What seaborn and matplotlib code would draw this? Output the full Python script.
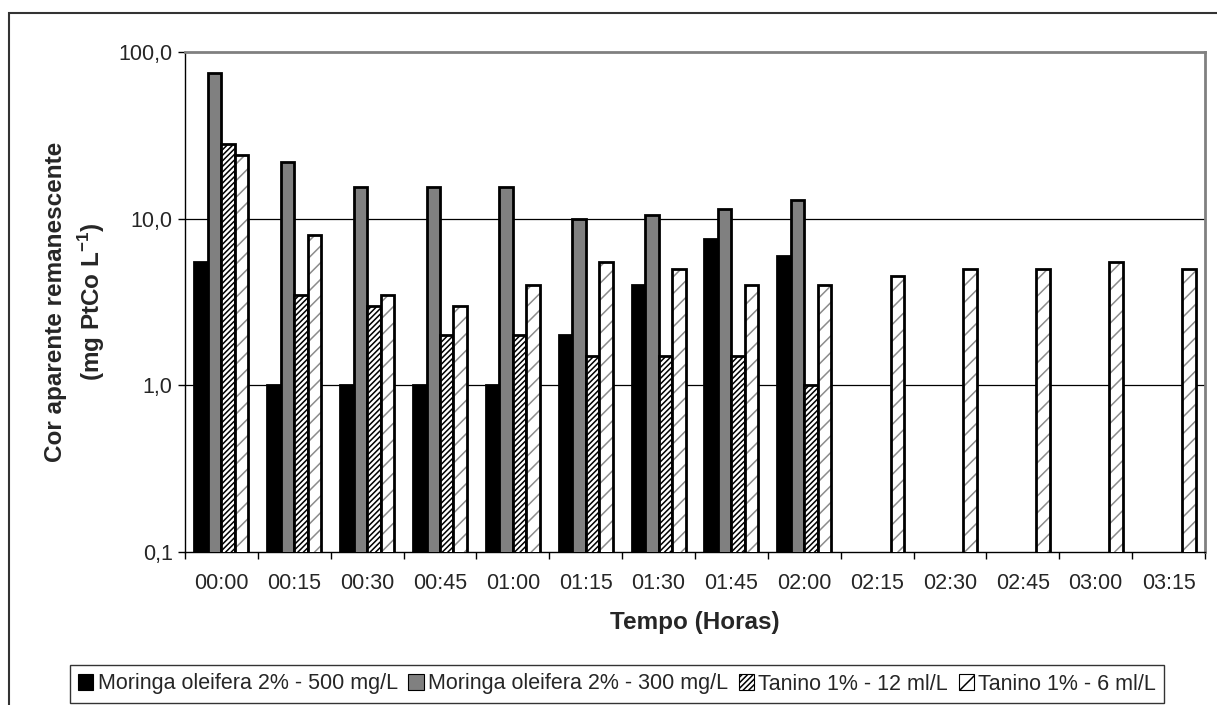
import numpy as np
import pandas as pd
import matplotlib
matplotlib.use("Agg")
import matplotlib.pyplot as plt
from matplotlib.patches import Rectangle, Patch
from matplotlib.colors import to_rgba
from matplotlib.ticker import FixedLocator, FuncFormatter, NullLocator
import seaborn as sns

# Sampling times and series
times = ["00:00", "00:15", "00:30", "00:45", "01:00", "01:15", "01:30",
         "01:45", "02:00", "02:15", "02:30", "02:45", "03:00", "03:15"]
series = ["Moringa oleifera 2% - 500 mg/L", "Moringa oleifera 2% - 300 mg/L",
          "Tanino 1% - 12 ml/L", "Tanino 1% - 6 ml/L"]

moringa_500 = [5.5, 1.0, 1.0, 1.0, 1.0, 2.0, 4.0, 7.5, 6.0,
               np.nan, np.nan, np.nan, np.nan, np.nan]
moringa_300 = [75.0, 22.0, 15.5, 15.5, 15.5, 10.0, 10.5, 11.5, 13.0,
               np.nan, np.nan, np.nan, np.nan, np.nan]
tanino_12 = [28.0, 3.5, 3.0, 2.0, 2.0, 1.5, 1.5, 1.5, 1.0,
             np.nan, np.nan, np.nan, np.nan, np.nan]
tanino_6 = [24.0, 8.0, 3.5, 3.0, 4.0, 5.5, 5.0, 4.0, 4.0,
            4.5, 5.0, 5.0, 5.5, 5.0]

ytick_values = [0.1, 1.0, 10.0, 100.0]

values = [moringa_500, moringa_300, tanino_12, tanino_6]
df = pd.DataFrame({
    "Tempo": np.tile(times, len(series)),
    "Serie": np.repeat(series, len(times)),
    "Cor": np.concatenate(values),
}).dropna()

sns.set_theme(style="white")
plt.rcParams["font.family"] = ["Liberation Sans", "DejaVu Sans"]
plt.rcParams["mathtext.fontset"] = "custom"
plt.rcParams["mathtext.rm"] = "Liberation Sans"
plt.rcParams["mathtext.bf"] = "Liberation Sans:bold"
plt.rcParams["hatch.linewidth"] = 1.1

fills = ["black", "#808080", "white", "white"]
hatches = [None, None, "//////", "//"]
hatch_colors = ["black", "black", "black", "#8c8c8c"]

fig = plt.figure(figsize=(12.17, 7.05), dpi=100)
ax = fig.add_axes([185 / 1217, 1 - 552 / 705, (1205 - 185) / 1217, 500 / 705])

sns.barplot(data=df, x="Tempo", y="Cor", hue="Serie", order=times,
            hue_order=series, palette=fills, width=0.74, gap=0,
            edgecolor="black", linewidth=2.0,
            errorbar=None, legend=False, ax=ax, zorder=3)
ax.set_yscale("log", nonpositive="clip")

# apply hatching per series
for container, hatch, hc in zip(ax.containers, hatches, hatch_colors):
    for bar in container:
        if hatch:
            bar.set_hatch(hatch)
            bar._hatch_color = to_rgba(hc)

ax.set_ylim(0.1, 100)
ax.set_xlim(-0.5, len(times) - 0.5)
ax.yaxis.set_major_locator(FixedLocator(ytick_values))
ax.yaxis.set_minor_locator(NullLocator())
ax.yaxis.set_major_formatter(
    FuncFormatter(lambda v, _: f"{v:.1f}".replace(".", ",")))

# horizontal gridlines at decades
for v in ytick_values[1:-1]:
    ax.axhline(v, color="black", lw=0.9, zorder=1)

# category ticks sit between groups
ax.set_xticks(np.arange(len(times)))
ax.set_xticklabels(times)
ax.xaxis.set_minor_locator(FixedLocator(np.arange(len(times) + 1) - 0.5))
ax.tick_params(axis="x", which="major", length=0, pad=15, labelsize=15.5)
ax.tick_params(axis="x", which="minor", length=5, width=1, color="black",
               direction="out", bottom=True)
ax.tick_params(axis="y", length=5, width=1, color="black", direction="out",
               left=True, labelsize=15.5, pad=4)

for side in ["left", "bottom"]:
    ax.spines[side].set_color("black")
    ax.spines[side].set_linewidth(1.0)
for side in ["top", "right"]:
    ax.spines[side].set_color("#808080")
    ax.spines[side].set_linewidth(2.0)

ax.set_xlabel("Tempo (Horas)", fontsize=17.5, fontweight="bold", labelpad=12)
ax.set_ylabel("Cor aparente remanescente\n(mg PtCo L$^{\\mathbf{-1}}$)",
              fontsize=17.5, fontweight="bold", labelpad=8, linespacing=1.4)

handles = [Patch(facecolor=f, edgecolor="black", hatch=h, linewidth=0.8)
           for f, h in zip(fills, ["", "", "//////", "//"])]
leg = fig.legend(handles, series, loc="center", ncol=4,
                 bbox_to_anchor=(617 / 1217, 1 - 684 / 705),
                 frameon=True, fancybox=False, shadow=False,
                 edgecolor="black", fontsize=15.5, handlelength=0.7,
                 handleheight=0.7, handletextpad=0.2, columnspacing=0.5,
                 borderpad=0.4, borderaxespad=0)
leg.get_frame().set_linewidth(1.0)

# outer chart frame
fig.patches.append(Rectangle((9 / 1217, -0.1), 1.2, 1.1 - 13 / 705,
                             transform=fig.transFigure, fill=False,
                             edgecolor="#333333", linewidth=1.5))

fig.savefig("out.png", dpi=100)
